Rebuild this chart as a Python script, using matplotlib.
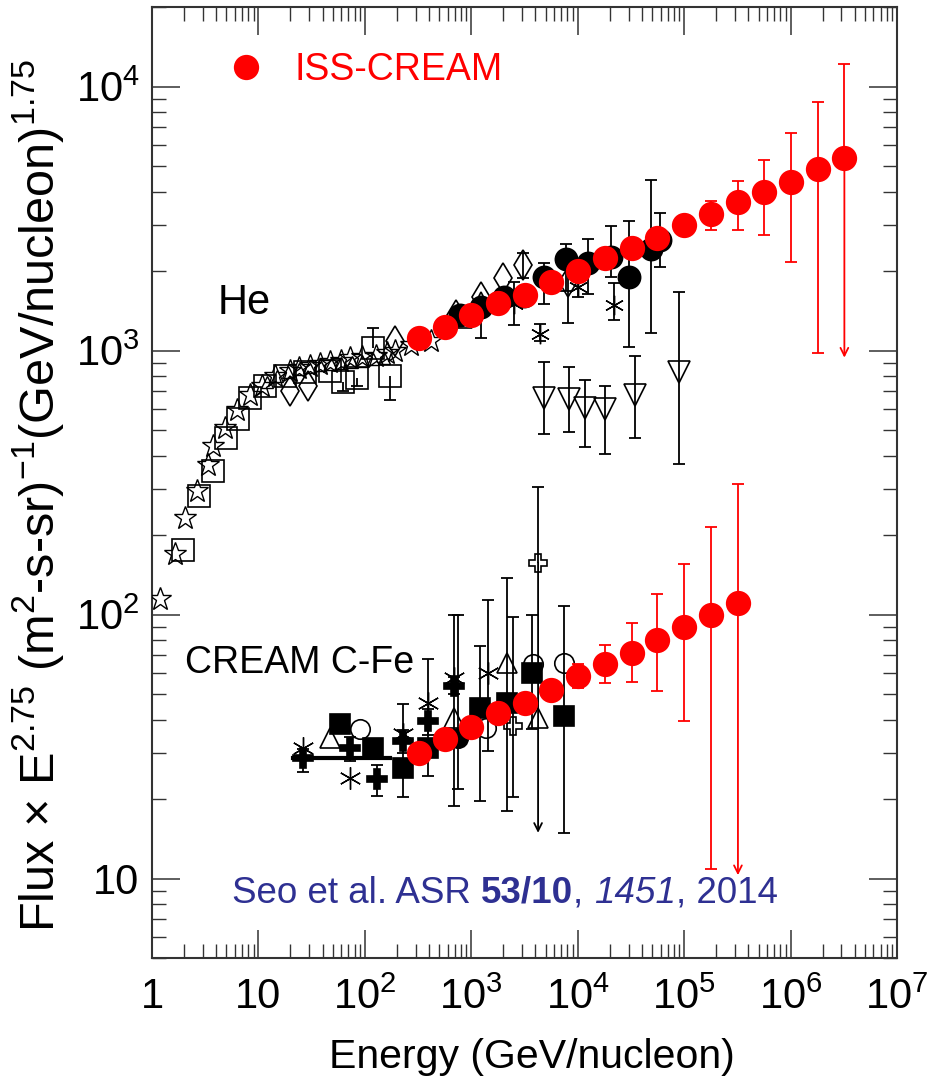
import numpy as np
import matplotlib
matplotlib.use("Agg")
import matplotlib.pyplot as plt
from matplotlib.ticker import LogLocator, NullFormatter

# ---------------- data ----------------
# ISS-CREAM helium
iss_he_e = [320, 560, 1000, 1800, 3200, 5600, 1.0e4, 1.8e4, 3.2e4, 5.6e4,
            1.0e5, 1.8e5, 3.2e5, 5.6e5, 1.0e6, 1.8e6, 3.2e6]
iss_he_f = [1120, 1233, 1369, 1520, 1630, 1825, 2009, 2250, 2455, 2680,
            3000, 3300, 3640, 4000, 4365, 4850, 5380]
iss_he_lo = [1120, 1233, 1369, 1520, 1630, 1825, 2009, 2250, 2455, 2680,
             3000, 2870, 2870, 2730, 2173, 982, 940]
iss_he_hi = [1120, 1233, 1369, 1520, 1630, 1825, 2009, 2250, 2455, 2680,
             3000, 3700, 4405, 5285, 6640, 8770, 12220]
iss_he_lim = [False] * 16 + [True]

# ISS-CREAM C-Fe
iss_cfe_e = [320, 560, 1000, 1800, 3200, 5600, 1.0e4, 1.8e4, 3.2e4, 5.6e4,
             1.0e5, 1.8e5, 3.2e5]
iss_cfe_f = [30.0, 33.9, 37.6, 42.2, 46.4, 52.0, 58.3, 64.7, 71.8, 80.4,
             90.1, 100, 111]
iss_cfe_lo = [30.0, 33.9, 37.6, 42.2, 46.4, 52.0, 52.5, 55.2, 55.7, 51.5,
              39.6, 10.9, 10.3]
iss_cfe_hi = [30.0, 33.9, 37.6, 42.2, 46.4, 52.0, 65.2, 76.9, 93.3, 120,
              156, 214, 313]
iss_cfe_lim = [False] * 12 + [True]

# Other helium measurements
he_star_e = [1.18, 1.63, 2.03, 2.63, 3.34, 3.72, 4.83, 6.27, 8.3, 10.8, 14.3,
             19.8, 24, 30.6, 38, 47.3, 60, 73, 95, 126, 160, 194, 269, 416]
he_star_f = [115, 170, 233, 295, 367, 436, 507, 593, 676, 737, 803,
             840, 860, 877, 890, 901, 915, 934, 945, 957, 975, 1000, 1045, 1091]

he_band_e = [12, 15, 19, 24, 30, 38, 48, 60, 75, 95, 120, 150]
he_band_f = [760, 800, 830, 850, 865, 880, 890, 900, 905, 915, 925, 940]

he_sq_e = [1.94, 2.75, 3.72, 4.99, 6.4, 8.3, 11.5, 17.8, 27.5, 47.3, 62.8, 84.6, 118, 174]
he_sq_f = [176, 282, 351, 468, 552, 663, 737, 803, 826, 840, 757, 790, 1026, 803]
he_sq_lo = [176, 282, 351, 468, 552, 663, 737, 803, 826, 840, 705, 737, 1026, 652]
he_sq_hi = [176, 282, 351, 468, 552, 663, 737, 803, 826, 840, 757, 790, 1222, 803]

he_dia_e = [19.8, 29.3, 194, 715, 1230, 1983, 3063, 8130]
he_dia_f = [705, 737, 1091, 1358, 1589, 1875, 2100, 1811]
he_dia_lo = [705, 737, 1091, 1358, 1589, 1875, 1875, 1277]
he_dia_hi = [705, 737, 1091, 1358, 1589, 1875, 2350, 2154]

he_tri_e = [832, 1230]
he_tri_f = [1322, 1545]
he_tri_lo = [1322, 1120]
he_tri_hi = [1322, 1545]

he_cir_e = [780, 1230, 2026, 3126, 4830, 7800, 12600, 20700, 30600, 49300, 58700]
he_cir_f = [1358, 1456, 1589, 1616, 1905, 2213, 2154, 2270, 1905, 2432, 2630]
he_cir_lo = [1358, 1456, 1589, 1616, 1507, 1688, 1644, 1900, 1035, 1170, 2080]
he_cir_hi = [1358, 1456, 1589, 1616, 2154, 2541, 2655, 2972, 3105, 4443, 3330]

he_ast_e = [2520, 4430, 10100, 22100]
he_ast_f = [1507, 1158, 1733, 1494]
he_ast_lo = [1253, 1091, 1600, 1300]
he_ast_hi = [1811, 1265, 1850, 1795]

he_inv_e = [4830, 8320, 11800, 18200, 34800, 88700]
he_inv_f = [663, 658, 608, 603, 676, 826]
he_inv_lo = [481, 493, 433, 407, 468, 373]
he_inv_hi = [901, 863, 776, 737, 957, 1671]

# Other C-Fe measurements
cfe_line_e = [21.2, 174]
cfe_line_f = [28.5, 28.5]

cfe_sq_e = [58.7, 120, 226, 389, 1200, 2163, 3720, 7460]
cfe_sq_f = [38.6, 31.1, 26.3, 31.3, 44.1, 46.4, 60.3, 41.4]
cfe_sq_lo = [38.6, 31.1, 20.3, 24.5, 19.6, 18.1, 37.0, 14.9]
cfe_sq_hi = [38.6, 31.1, 46.0, 68.1, 76.3, 137, 100, 108]

cfe_fcir_e = [746]
cfe_fcir_f = [34.2]
cfe_fcir_lo = [21.9]
cfe_fcir_hi = [100]

cfe_cross_e = [26.3, 73, 131, 226, 389, 684]
cfe_cross_f = [28.5, 31.1, 23.9, 33.3, 39.6, 53.8]
cfe_cross_lo = [25.4, 28.0, 20.5, 30.0, 35.0, 50.0]
cfe_cross_hi = [31.0, 34.5, 27.0, 36.5, 44.0, 58.0]

cfe_tri_e = [46.8, 684, 2163, 4240]
cfe_tri_f = [34.2, 40.7, 65.8, 40.7]

cfe_ast_e = [26.3, 73, 226, 389, 684, 1432]
cfe_ast_f = [31.3, 24.1, 35.4, 46.4, 57.7, 60.3]
cfe_ast_lo = [31.3, 24.1, 35.4, 46.4, 18.9, 30.3]
cfe_ast_hi = [31.3, 24.1, 35.4, 46.4, 100, 114]

cfe_ocir_e = [90.7, 1371, 3800, 7460]
cfe_ocir_f = [37.0, 37.3, 65.2, 65.8]

cfe_ocross_e = [2466, 4240]
cfe_ocross_f = [38.0, 157]
cfe_ocross_lo = [20.3, 14.9]
cfe_ocross_hi = [98, 303]
cfe_ocross_lim = [False, True]

x_ticks = [1, 10, 1e2, 1e3, 1e4, 1e5, 1e6, 1e7]
x_labels = ["1", "10", "$10^2$", "$10^3$", "$10^4$", "$10^5$", "$10^6$", "$10^7$"]
y_ticks = [10, 1e2, 1e3, 1e4]
y_labels = ["10", "$10^2$", "$10^3$", "$10^4$"]

# ---------------- style ----------------
plt.rcParams["font.family"] = ["Liberation Sans", "DejaVu Sans"]
plt.rcParams["mathtext.fontset"] = "custom"
plt.rcParams["mathtext.rm"] = "Liberation Sans"
plt.rcParams["mathtext.it"] = "Liberation Sans:italic"
plt.rcParams["mathtext.bf"] = "Liberation Sans:bold"

RED = "#ff0000"
NAVY = "#2e3092"

fig = plt.figure(figsize=(9.4, 10.85), dpi=100)
ax = fig.add_axes([0.1617, 0.1170, 0.7926, 0.8765])
ax.set_xscale("log")
ax.set_yscale("log")
ax.set_xlim(1, 1e7)
ax.set_ylim(5, 2e4)


def series(e, f, lo=None, hi=None, lim=None, color="black", marker="o",
           ms=14, filled=True, mew=1.2, z=3, cap=4.5):
    e = np.asarray(e, float)
    f = np.asarray(f, float)
    if lo is not None:
        lo = np.asarray(lo, float)
        hi = np.asarray(hi, float)
        lim = np.zeros(len(e), bool) if lim is None else np.asarray(lim, bool)
        down = (lo < f) & ~lim
        up = hi > f
        ax.vlines(e[down], lo[down], f[down], color=color, lw=1.3, zorder=z)
        ax.vlines(e[up], f[up], hi[up], color=color, lw=1.3, zorder=z)
        ax.plot(e[down], lo[down], ls="none", marker="_", ms=cap * 2,
                mew=1.3, color=color, zorder=z)
        ax.plot(e[up], hi[up], ls="none", marker="_", ms=cap * 2,
                mew=1.3, color=color, zorder=z)
        for ei, fi, li in zip(e[lim], f[lim], lo[lim]):
            ax.annotate("", xy=(ei, li), xytext=(ei, fi),
                        arrowprops=dict(arrowstyle="->", color=color, lw=1.3,
                                        shrinkA=0, shrinkB=0,
                                        mutation_scale=14),
                        zorder=z)
    return ax.plot(e, f, ls="none", marker=marker, ms=ms,
                   mfc=color if filled else "none", mec=color, mew=mew,
                   zorder=z + 0.5)[0]


ASTER = (6, 2, 0)

# helium, other experiments
series(he_star_e, he_star_f, marker="*", ms=17, filled=False, mew=1.0)
series(he_band_e, he_band_f, marker="^", ms=9, filled=False, mew=1.0)
series(he_sq_e, he_sq_f, he_sq_lo, he_sq_hi, marker="s", ms=16, filled=False)
series(he_dia_e, he_dia_f, he_dia_lo, he_dia_hi, marker="d", ms=15, filled=False)
series(he_tri_e, he_tri_f, he_tri_lo, he_tri_hi, marker="^", ms=13, filled=False)
series(he_cir_e, he_cir_f, he_cir_lo, he_cir_hi, marker="o", ms=16)
series(he_ast_e, he_ast_f, he_ast_lo, he_ast_hi, marker=ASTER, ms=14, mew=1.0)
series(he_inv_e, he_inv_f, he_inv_lo, he_inv_hi, marker="v", ms=16, filled=False)

# C-Fe, other experiments
ax.plot(cfe_line_e, cfe_line_f, color="black", lw=3, zorder=3)
series(cfe_sq_e, cfe_sq_f, cfe_sq_lo, cfe_sq_hi, marker="s", ms=14)
series(cfe_fcir_e, cfe_fcir_f, cfe_fcir_lo, cfe_fcir_hi, marker="o", ms=14)
series(cfe_cross_e, cfe_cross_f, cfe_cross_lo, cfe_cross_hi, marker="P", ms=14)
series(cfe_tri_e, cfe_tri_f, marker="^", ms=14, filled=False)
series(cfe_ast_e, cfe_ast_f, cfe_ast_lo, cfe_ast_hi, marker=ASTER, ms=16, mew=1.0)
series(cfe_ocir_e, cfe_ocir_f, marker="o", ms=14, filled=False)
series(cfe_ocross_e, cfe_ocross_f, cfe_ocross_lo, cfe_ocross_hi,
       cfe_ocross_lim, marker="P", ms=13, filled=False)

# ISS-CREAM
iss_handle = series(iss_he_e, iss_he_f, iss_he_lo, iss_he_hi, iss_he_lim,
                    color=RED, marker="o", ms=17, z=6)
series(iss_cfe_e, iss_cfe_f, iss_cfe_lo, iss_cfe_hi, iss_cfe_lim,
       color=RED, marker="o", ms=17, z=6)

ax.legend([iss_handle], ["ISS-CREAM"], loc="center left",
          bbox_to_anchor=(0.106, 0.934), frameon=False, fontsize=27,
          labelcolor=RED, handlelength=0.8, handletextpad=0.9,
          borderpad=0, borderaxespad=0, numpoints=1)

# ---------------- axes ----------------
ax.set_xticks(x_ticks)
ax.set_xticklabels(x_labels)
ax.set_yticks(y_ticks)
ax.set_yticklabels(y_labels)
ax.xaxis.set_minor_locator(LogLocator(base=10, subs=np.arange(2, 10), numticks=50))
ax.yaxis.set_minor_locator(LogLocator(base=10, subs=np.arange(2, 10), numticks=50))
ax.xaxis.set_minor_formatter(NullFormatter())
ax.yaxis.set_minor_formatter(NullFormatter())
ax.tick_params(which="both", direction="in", top=True, right=True,
               color="#333333")
ax.tick_params(which="major", length=20, width=1.1, labelsize=30, pad=14)
ax.tick_params(which="minor", length=10, width=1.0)
ax.tick_params(axis="y", which="major", pad=9)
for s in ax.spines.values():
    s.set_linewidth(1.5)
    s.set_color("#333333")

ax.set_xlabel("Energy (GeV/nucleon)", fontsize=29.5)
ax.xaxis.set_label_coords(0.51, -0.084)
ax.set_ylabel(r"Flux $\times$ E$^{2.75}$ (m$^{2}$-s-sr)$^{-1}$(GeV/nucleon)$^{1.75}$",
              fontsize=35)
ax.yaxis.set_label_coords(-0.115, 0.487)

ax.text(0.0886, 0.6888, "He", transform=ax.transAxes, fontsize=30,
        va="center", ha="left")
ax.text(0.0443, 0.310, "CREAM C-Fe", transform=ax.transAxes, fontsize=27,
        va="center", ha="left")

# citation line, built piece by piece
t = ax.text(0.1074, 0.0683, "Seo et al. ASR ", transform=ax.transAxes,
            fontsize=26.5, color=NAVY, va="center", ha="left")
for txt, kw in [("53/10", dict(fontweight="bold")), (", ", {}),
                ("1451", dict(fontstyle="italic")), (", 2014", {})]:
    t = ax.annotate(txt, xy=(1, 0), xycoords=t, va="bottom", ha="left",
                    fontsize=26.5, color=NAVY, **kw)

fig.savefig("out.png", dpi=100)
